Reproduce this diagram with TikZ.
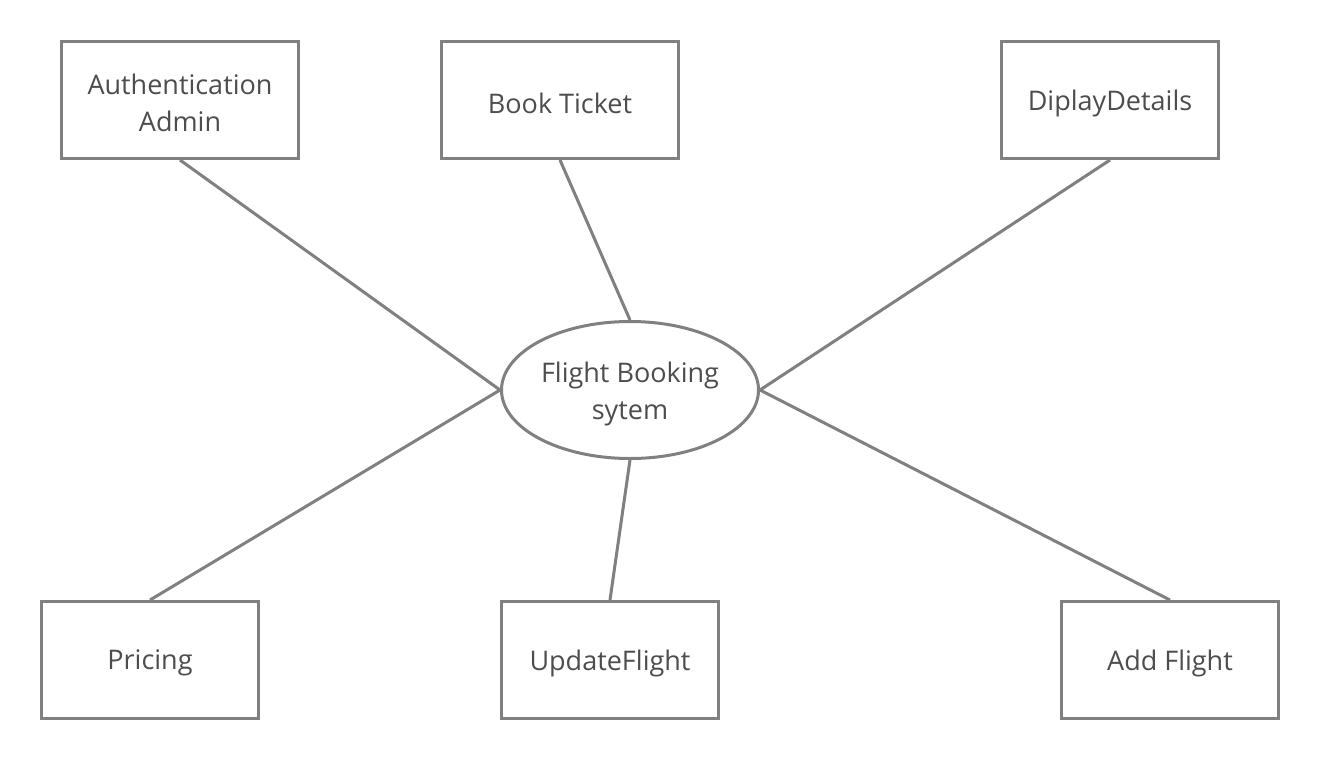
\documentclass[tikz,border=0pt]{standalone}
\usepackage{fontspec}
\setmainfont{Open Sans}
\usetikzlibrary{shapes.geometric}
\definecolor{edgegray}{HTML}{808080}
\definecolor{textgray}{HTML}{4D4D4D}
\begin{document}
\begin{tikzpicture}[x=1pt,y=-1pt,
  box/.style={draw=edgegray,line width=3pt,rectangle,minimum width=237pt,minimum height=117pt,fill=white},
  hub/.style={draw=edgegray,line width=3pt,ellipse,minimum width=257pt,minimum height=137pt,inner sep=0pt,fill=white},
  txt/.style={align=center,text=textgray,font=\fontsize{27}{37}\selectfont,yshift=-3pt},
  link/.style={draw=edgegray,line width=3pt}]
\fill[white] (0,0) rectangle (1320,760);
\useasboundingbox (0,0) rectangle (1320,760);
\node[hub,label={[txt,yshift=-1pt]center:Flight Booking\\sytem}] (sys) at (630,390) {};
\node[box,label={[txt]center:Authentication\\Admin}] (auth) at (180,100) {};
\node[box,label={[txt]center:Book Ticket}] (book) at (560,100) {};
\node[box,minimum width=217pt,label={[txt]center:DiplayDetails}] (disp) at (1110,100) {};
\node[box,minimum width=217pt,label={[txt]center:Pricing}] (price) at (150,660) {};
\node[box,minimum width=217pt,label={[txt]center:UpdateFlight}] (upd) at (610,660) {};
\node[box,minimum width=217pt,label={[txt]center:Add Flight}] (add) at (1170,660) {};
\draw[link] (auth.south) -- (sys.west);
\draw[link] (book.south) -- (sys.north);
\draw[link] (disp.south) -- (sys.east);
\draw[link] (price.north) -- (sys.west);
\draw[link] (upd.north) -- (sys.south);
\draw[link] (add.north) -- (sys.east);
\end{tikzpicture}
\end{document}
